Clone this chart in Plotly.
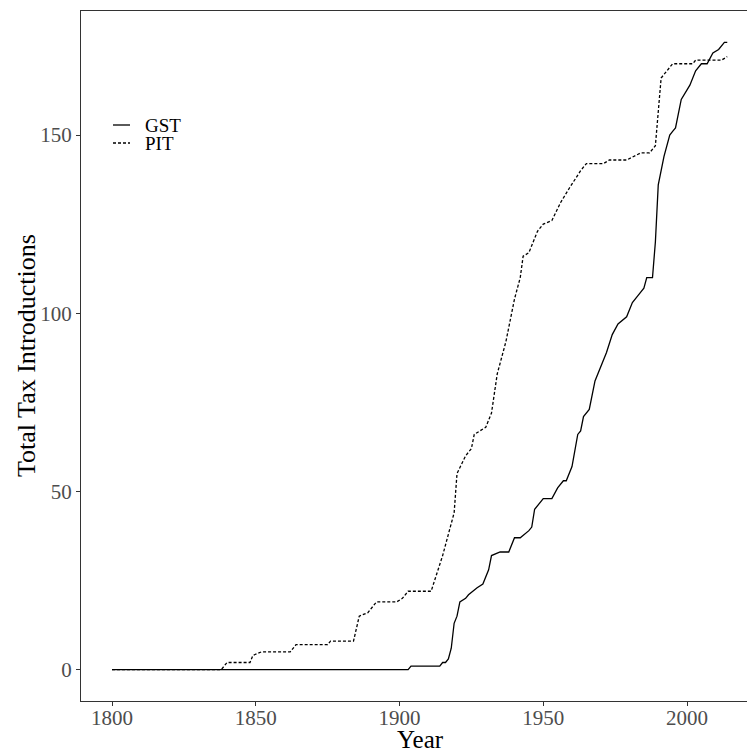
import plotly.graph_objects as go

# ---- data ----
gst_years = [1800, 1903, 1904, 1914, 1915, 1916, 1917, 1918, 1919, 1920, 1921, 1923, 1924,
             1927, 1929, 1931, 1932, 1935, 1938, 1940, 1942, 1945, 1946, 1947, 1950, 1953,
             1955, 1957, 1958, 1960, 1962, 1963, 1964, 1966, 1968, 1970, 1972, 1974, 1976,
             1979, 1981, 1983, 1985, 1986, 1988, 1989, 1990, 1992, 1994, 1995, 1996, 1998,
             2001, 2003, 2005, 2007, 2009, 2011, 2013, 2014]
gst_values = [0, 0, 1, 1, 2, 2, 3, 6, 13, 15, 19, 20, 21,
              23, 24, 28, 32, 33, 33, 37, 37, 39, 40, 45, 48, 48,
              51, 53, 53, 57, 66, 67, 71, 73, 81, 85, 89, 94, 97,
              99, 103, 105, 107, 110, 110, 120, 136, 144, 150, 151, 152, 160,
              164, 168, 170, 170, 173, 174, 176, 176]

pit_years = [1800, 1838, 1840, 1848, 1849, 1852, 1862, 1864, 1875, 1876, 1884, 1886, 1889,
             1892, 1899, 1901, 1903, 1911, 1915, 1919, 1920, 1923, 1925, 1926, 1930, 1932,
             1934, 1937, 1940, 1942, 1943, 1945, 1948, 1950, 1953, 1956, 1959, 1963, 1965,
             1971, 1973, 1979, 1984, 1987, 1989, 1990, 1991, 1993, 1995, 2002, 2003, 2012, 2014]
pit_values = [0, 0, 2, 2, 4, 5, 5, 7, 7, 8, 8, 15, 16,
              19, 19, 20, 22, 22, 32, 44, 55, 60, 62, 66, 68, 72,
              83, 92, 104, 110, 116, 117, 123, 125, 126, 131, 135, 140, 142,
              142, 143, 143, 145, 145, 147, 157, 166, 168, 170, 170, 171, 171, 172]

x_ticks = [1800, 1850, 1900, 1950, 2000]
y_ticks = [0, 50, 100, 150]
series_names = ["GST", "PIT"]

FONT = "Liberation Serif, Times New Roman, serif"

fig = go.Figure()
fig.add_trace(go.Scatter(x=gst_years, y=gst_values, mode="lines", name=series_names[0],
                         line=dict(color="black", width=1.3), showlegend=False))
fig.add_trace(go.Scatter(x=pit_years, y=pit_values, mode="lines", name=series_names[1],
                         line=dict(color="black", width=1.3, dash="3px,2px"), showlegend=False))

W, H = 747, 751
L, T, B = 81, 11, 50
pw, ph = W - L, H - T - B


def px_x(p):
    return (p - L) / pw


def px_y(p):
    return (H - B - p) / ph


# manual legend (ggplot-like, inside top-left)
leg = [(series_names[0], 125, "solid"), (series_names[1], 143, "3px,2px")]
for name, yy, dash in leg:
    fig.add_shape(type="line", xref="paper", yref="paper",
                  x0=px_x(113), x1=px_x(130), y0=px_y(yy), y1=px_y(yy),
                  line=dict(color="black", width=1.3, dash=dash))
    fig.add_annotation(xref="paper", yref="paper", x=px_x(144), y=px_y(yy),
                       text=name, showarrow=False, xanchor="left", yanchor="middle",
                       borderpad=0,
                       font=dict(family=FONT, size=19, color="black"))

# axis titles
fig.add_annotation(xref="paper", yref="paper", x=px_x(420), y=px_y(739),
                   text="Year", showarrow=False, xanchor="center", yanchor="middle",
                   borderpad=0,
                   font=dict(family=FONT, size=25, color="black"))
fig.add_annotation(xref="paper", yref="paper", x=px_x(26), y=px_y(356),
                   text="Total Tax Introductions", showarrow=False, textangle=-90,
                   xanchor="center", yanchor="middle",
                   font=dict(family=FONT, size=26, color="black"))

x0 = 1800 - 31 / 2.875
x1 = 1800 + (W - 112) / 2.875
fig.update_layout(
    width=W, height=H,
    margin=dict(l=L, r=0, t=T, b=B),
    paper_bgcolor="white", plot_bgcolor="white",
    font=dict(family=FONT),
    xaxis=dict(range=[x0, x1], tickvals=x_ticks, ticktext=[str(v) for v in x_ticks],
               showgrid=False, zeroline=False, showline=True, linecolor="#333333",
               linewidth=1, mirror=True, ticks="outside", ticklen=4, tickcolor="#333333",
               ticklabelstandoff=-6,
               tickfont=dict(family=FONT, size=21, color="#4D4D4D")),
    yaxis=dict(range=[-8.8, 184.8], tickvals=y_ticks, ticktext=[str(v) for v in y_ticks],
               showgrid=False, zeroline=False, showline=True, linecolor="#333333",
               linewidth=1, mirror=False, ticks="outside", ticklen=4, tickcolor="#333333",
               tickfont=dict(family=FONT, size=21, color="#4D4D4D")),
)

fig.write_html("out.html", config={"displayModeBar": False},
               post_script="document.body.style.margin='0';document.body.style.overflow='hidden';")
